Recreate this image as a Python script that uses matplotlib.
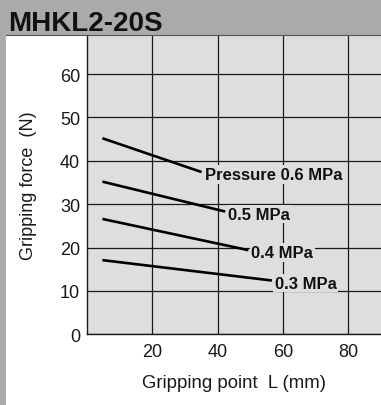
import matplotlib
matplotlib.use("Agg")
import matplotlib.pyplot as plt
from matplotlib.patches import Rectangle
from matplotlib.lines import Line2D

plt.rcParams['font.family'] = ['Liberation Sans', 'DejaVu Sans']

# Data
title = "MHKL2-20S"
pressure_labels = ["Pressure 0.6 MPa", "0.5 MPa", "0.4 MPa", "0.3 MPa"]
x_start = [4.7, 4.7, 4.7, 4.7]
x_end = [35.1, 42.3, 49.4, 56.6]
force_start = [45.2, 35.2, 26.6, 17.1]
force_end = [37.4, 28.3, 19.4, 12.4]
x_ticks = [20, 40, 60, 80]
y_ticks = [0, 10, 20, 30, 40, 50, 60]
x_label = "Gripping point  L (mm)"
y_label = "Gripping force  (N)"

W, H = 381, 406
fig = plt.figure(figsize=(W / 100, H / 100), dpi=100)
fig.patch.set_facecolor('#aaaaaa')

# White panel
fig.add_artist(Rectangle((6 / W, 0), 1 - 6 / W, (H - 36) / H, transform=fig.transFigure,
                         facecolor='white', edgecolor='none', zorder=0))
fig.add_artist(Line2D([6 / W, 1], [(H - 36) / H] * 2, transform=fig.transFigure,
                      color='#555555', lw=0.8, zorder=1))

ax = fig.add_axes([87 / W, (H - 335.3) / H, 1 - 87 / W, (335.3 - 36) / H])
ax.set_facecolor('#dedede')
ax.set_xlim(0, 90)
ax.set_ylim(0, 69)
ax.set_xticks(x_ticks)
ax.set_yticks(y_ticks)
ax.grid(True, color='#1a1a1a', lw=0.9, zorder=1)
ax.set_axisbelow(True)
ax.tick_params(length=0, labelsize=13, pad=6, colors='#1a1a1a')
ax.tick_params(axis='y', pad=5)
for s in ['top', 'right']:
    ax.spines[s].set_visible(False)
for s in ['left', 'bottom']:
    ax.spines[s].set_color('#1a1a1a')
    ax.spines[s].set_linewidth(1.0)

for lbl, xs, xe, ys, ye in zip(pressure_labels, x_start, x_end, force_start, force_end):
    ax.plot([xs, xe], [ys, ye], color='black', lw=1.9, solid_capstyle='butt', zorder=3)
    ax.annotate(lbl, xy=(xe, ye), xytext=(2.2, -1.8), textcoords='offset points',
                ha='left', va='center', fontsize=12, fontweight='bold', color='#111111',
                bbox=dict(boxstyle='square,pad=0.1', facecolor='#dedede', edgecolor='none'),
                zorder=4)

ax.set_xlabel(x_label, fontsize=13.4, color='#1a1a1a', labelpad=10)
fig.text(29 / W, (H - 186) / H, y_label, rotation=90, fontsize=13, color='#1a1a1a',
         ha='center', va='center')

fig.text(8 / W, (H - 31) / H, title, fontsize=20, fontweight='bold', color='#111111',
         ha='left', va='baseline')

fig.savefig("out.png", dpi=100, facecolor=fig.get_facecolor())
